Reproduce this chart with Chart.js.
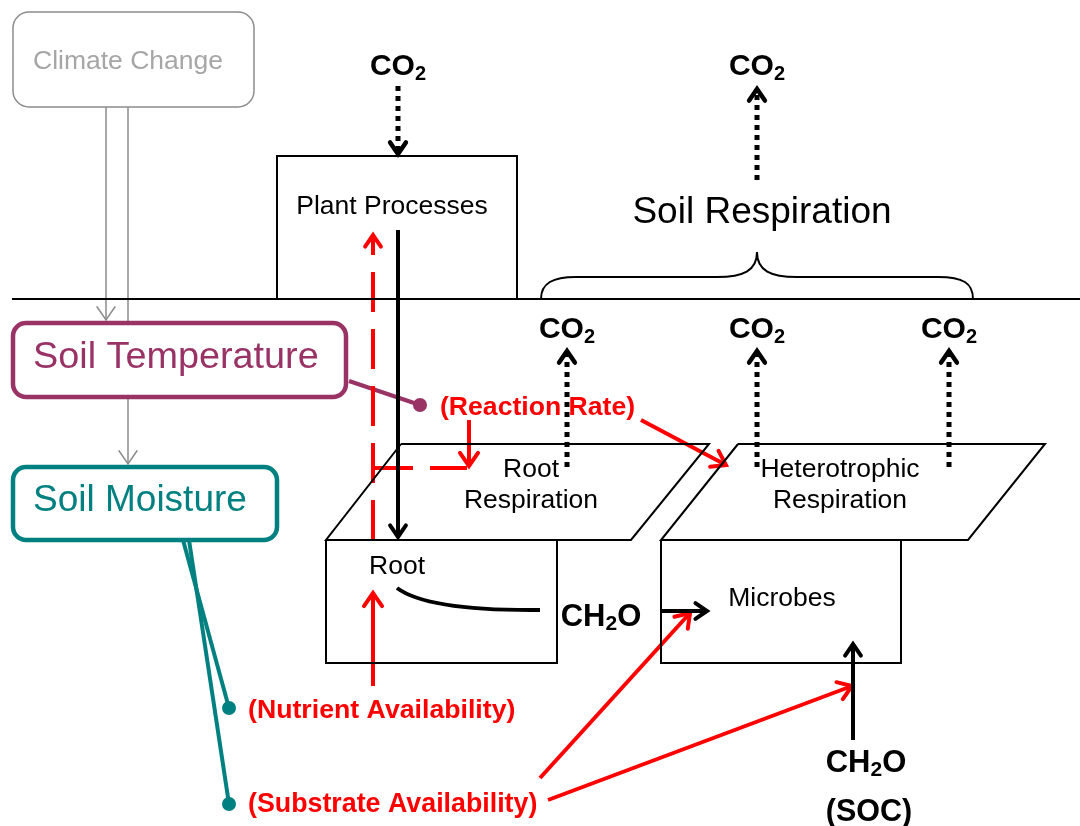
<!DOCTYPE html>
<html>
<head>
<meta charset="utf-8">
<script src="https://cdn.jsdelivr.net/npm/chart.js@4/dist/chart.umd.min.js"></script>
<style>
  html, body { margin: 0; padding: 0; background: #fff; }
  #diagram { display: block; }
</style>
</head>
<body>
<canvas id="diagram" width="1080" height="826"></canvas>
<script>
// diagram coordinates (x right, y down)
const RED    = '#ff0000'
const PURPLE = '#993366'
const TEAL   = '#008080'
const GRAY   = '#8c8c8c'

const groundLine   = [[12, 299], [1080, 299]]
const plantBox     = [[277, 299], [277, 156], [517, 156], [517, 299]]
const rootBox      = [[326, 540], [557, 540], [557, 663], [326, 663], [326, 540]]
const microbesBox  = [[661, 540], [901, 540], [901, 663], [661, 663], [661, 540]]
const rootResp     = [[401, 444], [709, 444], [631, 540], [326, 540], [401, 444]]
const hetResp      = [[738, 444], [1045, 444], [968, 540], [661, 540], [738, 444]]

// rounded boxes: x1, y1, x2, y2, radius
const climateBox   = [13, 12, 254, 107, 16]
const soilTempBox  = [13, 323, 346, 397, 13]
const soilMoistBox = [13, 467, 277, 540, 13]

// brace over soil respiration: left end, shoulder, peak, shoulder, right end
const brace = [[541, 299], [576, 277], [757, 252], [938, 277], [973, 299]]

// arrows: points end at the tip
const grayArrows   = [[[106, 107], [106, 320]], [[128, 397], [128, 464]]]
const grayLines    = [[[128, 107], [128, 323]]]
const co2Down      = [[[398, 86], [398, 154]]]
const co2Up        = [[[757, 180], [757, 89]], [[567, 467], [567, 351]], [[757, 467], [757, 351]], [[949, 467], [949, 351]]]
const blackArrows  = [[[398, 230], [398, 537]], [[853, 740], [853, 644]], [[661, 611], [707, 611]]]
const redDashUp    = [[373, 540], [373, 235]]
const redDashSide  = [[373, 468], [467, 468]]
const redArrows    = [[[469, 420], [469, 466]], [[641, 420], [726, 465]], [[373, 686], [373, 593]], [[540, 778], [690, 613]], [[548, 800], [852, 686]]]
const carbonCurve  = [[397, 588], [428, 611], [540, 610]]

const purpleLink   = [[349, 381], [420, 405]]
const tealLinks    = [[[183, 540], [229, 708]], [[189, 540], [229, 804]]]

// labels: text, x, y, align, size, bold, colour
const labels = [
    ['Climate Change',            128,  62, 'center', 26.5, false, '#a6a6a6'],
    ['Plant Processes',           392, 207, 'center', 26.5, false, '#000'],
    ['Soil Respiration',          762, 213, 'center', 37,   false, '#000'],
    ['Soil Temperature',           33, 358, 'left',   37.8, false, PURPLE],
    ['Soil Moisture',              33, 501, 'left',   37,   false, TEAL],
    ['(Reaction Rate)',           440, 408, 'left',   26.6, true,  RED],
    ['Root',                      531, 470, 'center', 26.5, false, '#000'],
    ['Respiration',               531, 501, 'center', 26.5, false, '#000'],
    ['Heterotrophic',             840, 470, 'center', 26.5, false, '#000'],
    ['Respiration',               840, 501, 'center', 26.5, false, '#000'],
    ['Root',                      397, 567, 'center', 26.5, false, '#000'],
    ['Microbes',                  782, 599, 'center', 26.5, false, '#000'],
    ['(Nutrient Availability)',   248, 711, 'left',   26.7, true,  RED],
    ['(Substrate Availability)',  248, 805, 'left',   26.8, true,  RED],
    ['(SOC)',                     869, 813, 'center', 30.5, true,  '#000']
]
// chemical labels with a subscript 2: before, after, x, y
const formulas = [
    ['CO', '',  398,  67],
    ['CO', '',  757,  67],
    ['CO', '',  567, 330],
    ['CO', '',  757, 330],
    ['CO', '',  949, 330],
    ['CH', 'O', 601, 617],
    ['CH', 'O', 866, 763]
]

const FONT = '"Liberation Sans", Arial, sans-serif'

const pts = arr => arr.map(p => ({ x: p[0], y: p[1] }))

const line = (arr, color, width, dash) => ({
    data: pts(arr),
    showLine: true,
    borderColor: color,
    borderWidth: width,
    borderDash: dash || [],
    borderCapStyle: 'butt',
    borderJoinStyle: 'miter',
    pointRadius: 0,
    fill: false,
    tension: 0
})

// open V head at the last point of an arrow
const head = (arr, color, width, size) => {
    let [x0, y0] = arr[arr.length - 2]
    let [x1, y1] = arr[arr.length - 1]
    let a = Math.atan2(y1 - y0, x1 - x0)
    let s = size || 13
    let l = [x1 - s * Math.cos(a - 0.6), y1 - s * Math.sin(a - 0.6)]
    let r = [x1 - s * Math.cos(a + 0.6), y1 - s * Math.sin(a + 0.6)]
    let d = line([l, [x1, y1], r], color, width)
    d.borderCapStyle = 'round'
    return d
}

const dots = (arr, color) => ({
    data: pts(arr),
    showLine: false,
    pointRadius: 7,
    pointBackgroundColor: color,
    pointBorderWidth: 0
})

let datasets = [
    line(groundLine, '#000', 2),
    line(plantBox, '#000', 2),
    line(rootBox, '#000', 2),
    line(microbesBox, '#000', 2),
    line(rootResp, '#000', 2),
    line(hetResp, '#000', 2)
]

grayLines.forEach(a => datasets.push(line(a, GRAY, 1.5)))
grayArrows.forEach(a => { datasets.push(line(a, GRAY, 1.5)); datasets.push(head(a, GRAY, 1.5, 16)) })
co2Down.concat(co2Up).forEach(a => { datasets.push(line(a, '#000', 5, [5, 5])); datasets.push(head(a, '#000', 4.5, 14)) })
blackArrows.forEach(a => { datasets.push(line(a, '#000', 4)); datasets.push(head(a, '#000', 4, 14)) })
datasets.push(line(redDashUp, RED, 4, [40, 17]))
datasets.push(head(redDashUp, RED, 4, 14))
datasets.push(line(redDashSide, RED, 4, [40, 17]))
redArrows.forEach(a => { datasets.push(line(a, RED, 4)); datasets.push(head(a, RED, 4, 16)) })
datasets.push(line(purpleLink, PURPLE, 4))
datasets.push(dots([purpleLink[1]], PURPLE))
tealLinks.forEach(a => { datasets.push(line(a, TEAL, 4)); datasets.push(dots([a[1]], TEAL)) })

const extras = {
    id: 'extras',
    afterDatasetsDraw(chart) {
        let ctx = chart.ctx
        let X = v => chart.scales.x.getPixelForValue(v)
        let Y = v => chart.scales.y.getPixelForValue(v)
        ctx.save()

        const roundBox = (b, color, width) => {
            ctx.beginPath()
            ctx.roundRect(X(b[0]), Y(b[1]), X(b[2]) - X(b[0]), Y(b[3]) - Y(b[1]), b[4])
            ctx.strokeStyle = color
            ctx.lineWidth = width
            ctx.stroke()
        }
        roundBox(climateBox, GRAY, 1.5)
        roundBox(soilTempBox, PURPLE, 4.5)
        roundBox(soilMoistBox, TEAL, 4.5)

        // brace
        let [b0, b1, b2, b3, b4] = brace
        ctx.beginPath()
        ctx.moveTo(X(b0[0]), Y(b0[1]))
        ctx.bezierCurveTo(X(b0[0]), Y(b1[1] + 6), X(b0[0] + 12), Y(b1[1]), X(b1[0]), Y(b1[1]))
        ctx.lineTo(X(b2[0] - 40), Y(b1[1]))
        ctx.bezierCurveTo(X(b2[0] - 14), Y(b1[1]), X(b2[0]), Y(b1[1] - 6), X(b2[0]), Y(b2[1]))
        ctx.bezierCurveTo(X(b2[0]), Y(b1[1] - 6), X(b2[0] + 14), Y(b1[1]), X(b2[0] + 40), Y(b1[1]))
        ctx.lineTo(X(b3[0]), Y(b3[1]))
        ctx.bezierCurveTo(X(b4[0] - 10), Y(b3[1]), X(b4[0]), Y(b3[1] + 6), X(b4[0]), Y(b4[1]))
        ctx.strokeStyle = '#000'
        ctx.lineWidth = 2
        ctx.stroke()

        // root carbon curve
        let [c0, c1, c2] = carbonCurve
        ctx.beginPath()
        ctx.moveTo(X(c0[0]), Y(c0[1]))
        ctx.quadraticCurveTo(X(c1[0]), Y(c1[1]), X(c2[0]), Y(c2[1]))
        ctx.lineWidth = 4
        ctx.stroke()

        ctx.textBaseline = 'middle'
        labels.forEach(([t, x, y, align, size, bold, color]) => {
            ctx.font = (bold ? 'bold ' : '') + size + 'px ' + FONT
            ctx.fillStyle = color
            ctx.textAlign = align
            ctx.fillText(t, X(x), Y(y))
        })

        ctx.fillStyle = '#000'
        ctx.textAlign = 'left'
        formulas.forEach(([a, b, x, y]) => {
            let big = 'bold ' + (b ? 31 : 30) + 'px ' + FONT
            let small = 'bold ' + (b ? 21 : 20) + 'px ' + FONT
            ctx.font = big
            let wa = ctx.measureText(a).width
            let wb = ctx.measureText(b).width
            ctx.font = small
            let w2 = ctx.measureText('2').width
            let left = X(x) - (wa + w2 + wb) / 2
            ctx.font = big
            ctx.fillText(a, left, Y(y))
            ctx.font = small
            ctx.fillText('2', left + wa, Y(y) + 7)
            ctx.font = big
            if (b) ctx.fillText(b, left + wa + w2, Y(y))
        })
        ctx.restore()
    }
}

new Chart(document.getElementById('diagram'), {
    type: 'scatter',
    data: { datasets },
    options: {
        responsive: false,
        animation: false,
        events: [],
        layout: { padding: 0, autoPadding: false },
        plugins: { legend: { display: false }, tooltip: { enabled: false } },
        scales: {
            x: { type: 'linear', min: 0, max: 1080, display: false },
            y: { type: 'linear', min: 0, max: 826, reverse: true, display: false }
        }
    },
    plugins: [extras]
})
</script>
</body>
</html>
